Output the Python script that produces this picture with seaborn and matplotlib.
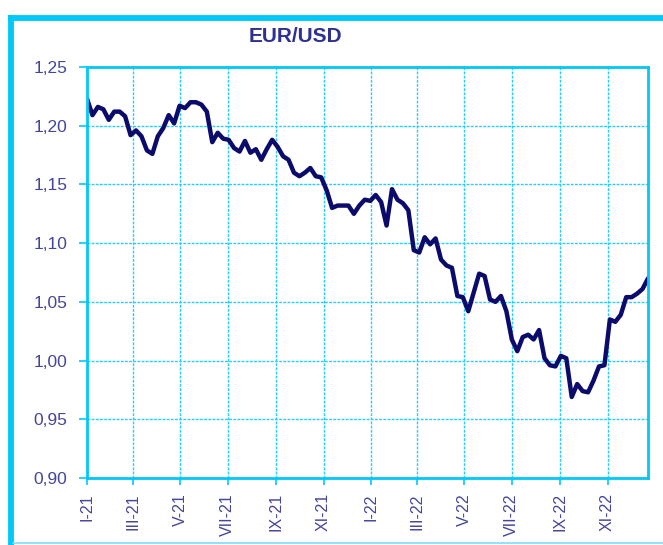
import matplotlib
matplotlib.use("Agg")
import matplotlib.pyplot as plt
import matplotlib.dates as mdates
from matplotlib.lines import Line2D
from matplotlib.ticker import FuncFormatter, MultipleLocator
import seaborn as sns
import pandas as pd

# weekly EUR/USD (Fridays)
start_date = "2021-01-01"
eurusd = [
    1.223, 1.209, 1.216, 1.214, 1.205, 1.212, 1.212, 1.208, 1.192, 1.196,
    1.191, 1.179, 1.176, 1.191, 1.198, 1.209, 1.202, 1.217, 1.215, 1.220,
    1.220, 1.218, 1.212, 1.186, 1.194, 1.189, 1.188, 1.181, 1.178, 1.187,
    1.177, 1.180, 1.171, 1.180, 1.188, 1.182, 1.174, 1.171, 1.160, 1.157,
    1.160, 1.164, 1.157, 1.156, 1.145, 1.130, 1.132, 1.132, 1.132, 1.125,
    1.132, 1.137, 1.136, 1.141, 1.135, 1.115, 1.146, 1.137, 1.134, 1.128,
    1.094, 1.092, 1.105, 1.099, 1.104, 1.086, 1.081, 1.079, 1.055, 1.054,
    1.042, 1.058, 1.074, 1.072, 1.052, 1.050, 1.055, 1.042, 1.018, 1.008,
    1.020, 1.022, 1.018, 1.026, 1.002, 0.996, 0.995, 1.004, 1.002, 0.969,
    0.980, 0.974, 0.973, 0.983, 0.995, 0.996, 1.035, 1.033, 1.039, 1.054,
    1.054, 1.057, 1.061, 1.070,
]
roman = {1: "I", 3: "III", 5: "V", 7: "VII", 9: "IX", 11: "XI"}

CYAN = "#00c8f8"
NAVY = "#0b0b6b"
LABEL = "#45459c"

df = pd.DataFrame({
    "date": pd.date_range(start_date, periods=len(eurusd), freq="7D"),
    "rate": eurusd,
})

sns.set_theme(style="white")
plt.rcParams["font.family"] = ["Liberation Sans", "DejaVu Sans"]

W, H = 663, 545
fig = plt.figure(figsize=(W / 100, H / 100), dpi=100)
ax = fig.add_axes([87 / W, 1 - 478 / H, (648 - 87) / W, (478 - 67) / H])

sns.lineplot(data=df, x="date", y="rate", ax=ax, color=NAVY, linewidth=3.2)

ax.set_ylim(0.90, 1.25)
ax.set_xlim(df["date"].iloc[0], df["date"].iloc[-1])
ax.yaxis.set_major_locator(MultipleLocator(0.05))
ax.yaxis.set_major_formatter(FuncFormatter(lambda v, p: f"{v:.2f}".replace(".", ",")))
ax.xaxis.set_major_locator(mdates.MonthLocator(bymonth=[1, 3, 5, 7, 9, 11]))
ax.xaxis.set_major_formatter(FuncFormatter(
    lambda v, p: f"{roman[mdates.num2date(v).month]}-{mdates.num2date(v).strftime('%y')}"))

ax.set_xlabel("")
ax.set_ylabel("")
ax.grid(True, color="#22cfff", linestyle=(0, (2, 1)), linewidth=1.0)
for s in ax.spines.values():
    s.set_color(CYAN)
    s.set_linewidth(2.0)

ax.tick_params(axis="y", direction="out", length=6, width=1.2, color=CYAN,
               labelcolor=LABEL, labelsize=12.5, pad=8, left=True)
ax.tick_params(axis="x", direction="out", length=5, width=1.2, color=CYAN,
               labelcolor=LABEL, labelsize=11.5, pad=6, bottom=True, labelrotation=90)

fig.text(0.445, 1 - 37 / H, "EUR/USD", ha="center", va="center",
         fontsize=15, fontweight="bold", color="#2e3192")

# outer frame: thick top and left, thin light bottom
fig.lines.append(Line2D([8 / W, 1.0], [1 - 17.5 / H] * 2, transform=fig.transFigure,
                        color=CYAN, linewidth=4.2, solid_capstyle="butt"))
fig.lines.append(Line2D([10.5 / W] * 2, [0.0, 1 - 15 / H], transform=fig.transFigure,
                        color=CYAN, linewidth=4.2, solid_capstyle="butt"))
fig.lines.append(Line2D([13 / W, 1.0], [1 - 543 / H] * 2, transform=fig.transFigure,
                        color="#7fdcff", linewidth=1.2))

fig.savefig("out.png", dpi=100)
